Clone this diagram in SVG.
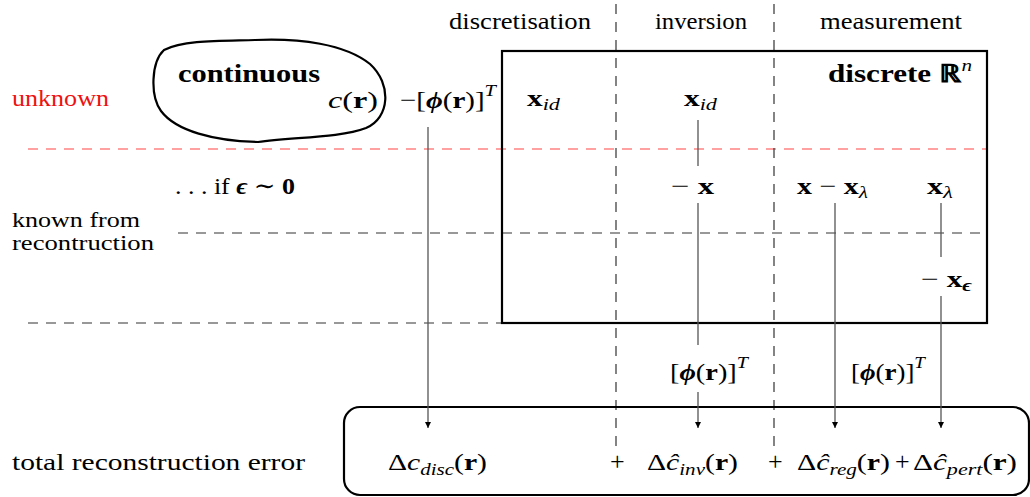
<svg xmlns="http://www.w3.org/2000/svg" width="1030" height="497" viewBox="0 0 1030 497">
<defs>
<marker id="ah" viewBox="0 0 10 10" refX="10" refY="5" markerWidth="6" markerHeight="7" markerUnits="userSpaceOnUse" orient="auto">
<path d="M0,0 L10,5 L0,10 z" fill="#000"/>
</marker>
<style>
text{font-family:"Liberation Serif","Times New Roman","DejaVu Serif",serif;font-size:24px;fill:#000}
.b{font-weight:bold}
.i{font-style:italic}
.sub{font-size:17px;font-style:italic;font-weight:normal}
.sup{font-size:17px;font-style:italic;font-weight:normal}
.dash{stroke:#333;stroke-width:1.2;stroke-dasharray:10 8;fill:none}
.red{stroke:#ff4444;stroke-width:1.2;stroke-dasharray:10 8;fill:none}
.conn{stroke:#555;stroke-width:1.3;fill:none}
.arr{stroke:#555;stroke-width:1.3;fill:none;marker-end:url(#ah)}
</style>
</defs>
<rect width="1030" height="497" fill="#fff"/>

<g id="guides">
<line class="red" x1="28" y1="149" x2="987" y2="149"/>
<line class="dash" x1="178" y1="233" x2="987" y2="233"/>
<line class="dash" x1="28" y1="323" x2="502" y2="323"/>
<line class="dash" x1="616" y1="4" x2="616" y2="448"/>
<line class="dash" x1="774" y1="4" x2="774" y2="448"/>
</g>

<g id="headers">
<text x="449" y="29" textLength="142" lengthAdjust="spacingAndGlyphs">discretisation</text>
<text x="655" y="29" textLength="92" lengthAdjust="spacingAndGlyphs">inversion</text>
<text x="820" y="29" textLength="142" lengthAdjust="spacingAndGlyphs">measurement</text>
</g>

<g id="row-labels">
<text x="12" y="106" style="fill:#ee1111" textLength="97" lengthAdjust="spacingAndGlyphs">unknown</text>
<text x="12" y="227" style="font-size:22px" textLength="128" lengthAdjust="spacingAndGlyphs">known from</text>
<text x="12" y="250" style="font-size:22px" textLength="142" lengthAdjust="spacingAndGlyphs">recontruction</text>
<text x="12" y="470" textLength="293" lengthAdjust="spacingAndGlyphs">total reconstruction error</text>
</g>

<g id="continuous">
<path d="M255,40 C300,38 345,44 370,64 C392,84 390,118 366,128 C340,138 292,137 258,142 C214,141 176,131 161,111 C150,96 151,62 164,50 C184,40 220,41 255,40 Z" fill="none" stroke="#000" stroke-width="2.2"/>
<text x="178" y="82" class="b" style="font-size:25px" textLength="142" lengthAdjust="spacingAndGlyphs">continuous</text>
<text x="328" y="108" textLength="50" lengthAdjust="spacingAndGlyphs"><tspan class="i">c</tspan>(<tspan class="b">r</tspan>)</text>
</g>

<g id="basis-disc">
<text x="400" y="108" textLength="96" lengthAdjust="spacingAndGlyphs">−[<tspan class="b i">ϕ</tspan>(<tspan class="b">r</tspan>)]<tspan class="sup" dy="-12">T</tspan></text>
</g>

<g id="discrete">
<rect x="502" y="51" width="485" height="272" fill="none" stroke="#000" stroke-width="2.2"/>
<text x="828" y="82" class="b" style="font-size:25px" textLength="144" lengthAdjust="spacingAndGlyphs">discrete ℝ<tspan class="sup" dy="-11">n</tspan></text>
</g>

<g id="xid-disc">
<text x="527" y="106" textLength="33" lengthAdjust="spacingAndGlyphs"><tspan class="b">x</tspan><tspan class="sub" dy="4">id</tspan></text>
</g>
<g id="xid-inv">
<text x="684" y="106" textLength="33" lengthAdjust="spacingAndGlyphs"><tspan class="b">x</tspan><tspan class="sub" dy="4">id</tspan></text>
</g>
<g id="if-eps">
<text x="175" y="194" textLength="120" lengthAdjust="spacingAndGlyphs">. . . if <tspan class="b i">ϵ</tspan> ∼ <tspan class="b">0</tspan></text>
</g>
<g id="minus-x">
<text x="671" y="194" textLength="43" lengthAdjust="spacingAndGlyphs">−  <tspan class="b">x</tspan></text>
</g>
<g id="x-minus-xl">
<text x="797" y="194" textLength="71" lengthAdjust="spacingAndGlyphs"><tspan class="b">x</tspan> − <tspan class="b">x</tspan><tspan class="sub" dy="4">λ</tspan></text>
</g>
<g id="xl">
<text x="927" y="194" textLength="26" lengthAdjust="spacingAndGlyphs"><tspan class="b">x</tspan><tspan class="sub" dy="4">λ</tspan></text>
</g>
<g id="minus-xe">
<text x="921" y="287" textLength="51" lengthAdjust="spacingAndGlyphs">−  <tspan class="b">x</tspan><tspan class="sub" style="font-weight:bold" dy="4">ϵ</tspan></text>
</g>
<g id="basis-inv">
<text x="670" y="380" textLength="78" lengthAdjust="spacingAndGlyphs">[<tspan class="b i">ϕ</tspan>(<tspan class="b">r</tspan>)]<tspan class="sup" dy="-12">T</tspan></text>
</g>
<g id="basis-meas">
<text x="851" y="380" textLength="74" lengthAdjust="spacingAndGlyphs">[<tspan class="b i">ϕ</tspan>(<tspan class="b">r</tspan>)]<tspan class="sup" dy="-12">T</tspan></text>
</g>

<g id="total">
<rect x="344" y="407" width="685" height="88" rx="16" fill="none" stroke="#000" stroke-width="2.2"/>
<text x="388" y="470" textLength="99" lengthAdjust="spacingAndGlyphs">Δ<tspan class="i">c</tspan><tspan class="sub" dy="5">disc</tspan><tspan dy="-5">(</tspan><tspan class="b">r</tspan>)</text>
<text x="610" y="470" style="font-size:26px">+</text>
<text x="647" y="470" textLength="91" lengthAdjust="spacingAndGlyphs">Δ<tspan class="i">ĉ</tspan><tspan class="sub" dy="5">inv</tspan><tspan dy="-5">(</tspan><tspan class="b">r</tspan>)</text>
<text x="768" y="470" style="font-size:26px">+</text>
<text x="797" y="470" textLength="93" lengthAdjust="spacingAndGlyphs">Δ<tspan class="i">ĉ</tspan><tspan class="sub" dy="5">reg</tspan><tspan dy="-5">(</tspan><tspan class="b">r</tspan>)</text>
<text x="895" y="470" style="font-size:26px">+</text>
<text x="913" y="470" textLength="104" lengthAdjust="spacingAndGlyphs">Δ<tspan class="i">ĉ</tspan><tspan class="sub" dy="5">pert</tspan><tspan dy="-5">(</tspan><tspan class="b">r</tspan>)</text>
</g>

<g id="connectors">
<line class="arr" x1="428" y1="127" x2="428" y2="428"/>
<line class="conn" x1="698" y1="120" x2="698" y2="166"/>
<line class="conn" x1="698" y1="203" x2="698" y2="345"/>
<line class="arr" x1="698" y1="392" x2="698" y2="428"/>
<line class="arr" x1="835" y1="203" x2="835" y2="428"/>
<line class="conn" x1="941" y1="203" x2="941" y2="257"/>
<line class="arr" x1="941" y1="296" x2="941" y2="428"/>
</g>
</svg>
